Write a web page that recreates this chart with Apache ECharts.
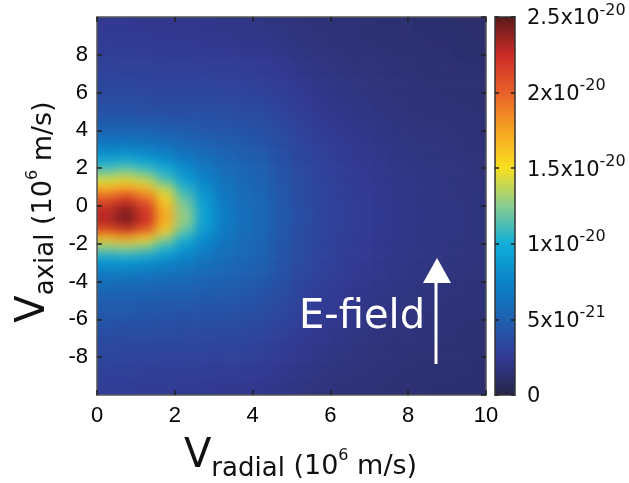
<!DOCTYPE html>
<html><head><meta charset="utf-8">
<script src="https://cdn.jsdelivr.net/npm/echarts@6/dist/echarts.min.js"></script>
<style>html,body{margin:0;padding:0;background:#fff}#c{width:629px;height:483px}</style>
</head><body><div id="c"></div>
<script>
// radial velocity cell centres (10^6 m/s)
const xCenters = [0.25,0.75,1.25,1.75,2.25,2.75,3.25,3.75,4.25,4.75,5.25,5.75,6.25,6.75,7.25,7.75,8.25,8.75,9.25,9.75];
// axial velocity cell centres (10^6 m/s), top to bottom
const yCenters = [9.75,9.25,8.75,8.25,7.75,7.25,6.75,6.25,5.75,5.25,4.75,4.25,3.75,3.25,2.75,2.25,1.75,1.25,0.75,0.25,
                  -0.25,-0.75,-1.25,-1.75,-2.25,-2.75,-3.25,-3.75,-4.25,-4.75,-5.25,-5.75,-6.25,-6.75,-7.25,-7.75,-8.25,-8.75,-9.25,-9.75];
// distribution values in units of 1e-21, one row per yCenter
const density = [
[2.4,2.4,2.3,2.3,2.2,2.2,2.1,2.0,1.9,1.8,1.7,1.6,1.5,1.5,1.4,1.4,1.3,1.3,1.2,1.2],
[2.4,2.4,2.4,2.3,2.3,2.2,2.2,2.1,2.1,1.9,1.8,1.7,1.6,1.5,1.4,1.4,1.3,1.3,1.3,1.2],
[2.6,2.6,2.5,2.5,2.4,2.3,2.3,2.2,2.2,2.0,1.8,1.7,1.6,1.5,1.5,1.4,1.4,1.3,1.3,1.2],
[2.7,2.7,2.6,2.6,2.5,2.5,2.4,2.3,2.3,2.1,1.9,1.8,1.7,1.6,1.5,1.5,1.4,1.4,1.3,1.3],
[2.8,2.8,2.8,2.7,2.7,2.6,2.6,2.5,2.5,2.2,2.0,1.9,1.7,1.6,1.6,1.5,1.4,1.4,1.3,1.3],
[3.0,2.9,2.9,2.8,2.8,2.8,2.7,2.7,2.5,2.4,2.1,1.9,1.8,1.7,1.6,1.5,1.5,1.4,1.4,1.3],
[3.1,3.1,3.1,3.0,3.0,3.0,2.9,2.9,2.7,2.5,2.2,2.0,1.9,1.8,1.7,1.6,1.5,1.5,1.4,1.4],
[3.3,3.3,3.2,3.2,3.1,3.1,3.1,3.0,2.9,2.7,2.4,2.1,2.0,1.8,1.7,1.6,1.5,1.5,1.4,1.4],
[3.6,3.6,3.5,3.4,3.4,3.4,3.3,3.2,3.1,2.8,2.5,2.2,2.0,1.9,1.8,1.7,1.6,1.5,1.5,1.4],
[3.9,3.9,3.8,3.7,3.7,3.7,3.6,3.5,3.4,3.0,2.6,2.3,2.1,2.0,1.8,1.7,1.6,1.6,1.5,1.5],
[4.3,4.3,4.2,4.1,4.0,4.0,3.8,3.7,3.6,3.2,2.8,2.4,2.2,2.0,1.9,1.8,1.7,1.6,1.6,1.5],
[4.9,4.9,4.8,4.6,4.5,4.3,4.2,4.0,3.8,3.4,2.9,2.6,2.3,2.1,2.0,1.8,1.7,1.7,1.6,1.5],
[5.7,5.7,5.6,5.3,5.0,4.7,4.5,4.3,4.1,3.6,3.0,2.7,2.4,2.2,2.0,1.9,1.8,1.7,1.7,1.6],
[6.8,6.8,6.6,6.1,5.6,5.2,4.9,4.6,4.3,3.7,3.2,2.8,2.5,2.3,2.1,1.9,1.8,1.8,1.7,1.6],
[8.2,8.4,8.0,7.3,6.4,5.8,5.3,4.8,4.6,3.9,3.3,2.9,2.6,2.3,2.2,2.0,1.9,1.8,1.7,1.7],
[10.2,10.5,9.9,8.7,7.5,6.4,5.7,5.2,4.8,4.1,3.4,3.0,2.7,2.4,2.2,2.0,1.9,1.8,1.8,1.7],
[12.3,12.8,11.9,10.3,8.4,7.0,6.0,5.4,5.0,4.2,3.5,3.0,2.7,2.4,2.3,2.1,2.0,1.9,1.8,1.7],
[14.8,15.4,14.3,12.0,9.5,7.6,6.4,5.6,5.1,4.3,3.6,3.1,2.8,2.5,2.3,2.1,2.0,1.9,1.8,1.7],
[18.2,19.2,17.6,14.4,11.0,8.4,6.7,5.8,5.3,4.4,3.7,3.2,2.8,2.5,2.3,2.1,2.0,1.9,1.8,1.8],
[21.3,22.4,20.6,16.0,12.0,8.9,6.9,5.9,5.4,4.5,3.7,3.2,2.9,2.6,2.4,2.2,2.0,1.9,1.9,1.8],
[22.8,24.1,22.0,17.1,12.6,9.3,7.1,6.0,5.4,4.5,3.8,3.2,2.9,2.6,2.4,2.2,2.0,2.0,1.9,1.8],
[23.1,24.4,22.3,17.3,12.8,9.3,7.1,6.0,5.4,4.5,3.8,3.2,2.9,2.6,2.4,2.2,2.0,2.0,1.9,1.8],
[21.2,22.3,20.5,15.9,12.0,8.9,6.9,6.0,5.4,4.5,3.7,3.2,2.9,2.6,2.4,2.2,2.0,1.9,1.9,1.8],
[15.8,16.5,15.3,12.8,10.1,7.9,6.6,5.8,5.3,4.4,3.7,3.2,2.8,2.5,2.3,2.2,2.0,1.9,1.9,1.8],
[12.2,12.6,11.8,10.2,8.5,7.1,6.2,5.6,5.2,4.3,3.6,3.1,2.8,2.5,2.3,2.1,2.0,1.9,1.8,1.8],
[9.3,9.5,9.1,8.2,7.3,6.5,5.9,5.4,5.0,4.2,3.6,3.1,2.7,2.5,2.3,2.1,2.0,1.9,1.8,1.7],
[7.6,7.6,7.4,7.0,6.5,6.0,5.6,5.2,4.9,4.1,3.5,3.0,2.7,2.4,2.2,2.1,1.9,1.9,1.8,1.7],
[6.3,6.3,6.2,5.9,5.7,5.4,5.2,4.9,4.7,4.0,3.3,2.9,2.6,2.3,2.2,2.0,1.9,1.8,1.7,1.7],
[5.7,5.6,5.5,5.4,5.3,5.1,4.9,4.7,4.4,3.8,3.2,2.8,2.5,2.3,2.1,2.0,1.9,1.8,1.7,1.6],
[5.1,5.1,5.0,4.9,4.8,4.7,4.6,4.4,4.1,3.6,3.1,2.7,2.4,2.2,2.1,1.9,1.8,1.7,1.7,1.6],
[4.7,4.7,4.6,4.5,4.4,4.3,4.2,4.1,3.9,3.5,3.0,2.6,2.4,2.1,2.0,1.9,1.8,1.7,1.6,1.6],
[4.4,4.4,4.3,4.2,4.1,4.1,4.0,3.8,3.7,3.3,2.8,2.5,2.3,2.1,1.9,1.8,1.7,1.6,1.6,1.5],
[4.1,4.0,4.0,3.9,3.8,3.8,3.7,3.6,3.5,3.1,2.7,2.4,2.2,2.0,1.9,1.8,1.7,1.6,1.5,1.5],
[3.8,3.7,3.7,3.6,3.5,3.5,3.4,3.3,3.2,2.9,2.5,2.3,2.1,1.9,1.8,1.7,1.6,1.6,1.5,1.4],
[3.5,3.5,3.5,3.4,3.4,3.3,3.3,3.2,3.0,2.7,2.4,2.2,2.0,1.8,1.7,1.6,1.6,1.5,1.5,1.4],
[3.3,3.2,3.2,3.1,3.1,3.1,3.0,3.0,2.8,2.6,2.3,2.1,1.9,1.8,1.7,1.6,1.5,1.5,1.4,1.4],
[3.1,3.1,3.0,2.9,2.9,2.9,2.8,2.8,2.6,2.4,2.2,2.0,1.8,1.7,1.6,1.5,1.5,1.4,1.4,1.3],
[2.9,2.9,2.8,2.8,2.8,2.7,2.7,2.6,2.5,2.3,2.1,1.9,1.8,1.7,1.6,1.5,1.4,1.4,1.4,1.3],
[2.8,2.8,2.7,2.7,2.6,2.6,2.5,2.4,2.4,2.2,2.0,1.8,1.7,1.6,1.5,1.5,1.4,1.4,1.3,1.3],
[2.7,2.7,2.6,2.6,2.5,2.4,2.3,2.3,2.2,2.0,1.9,1.7,1.6,1.6,1.5,1.4,1.4,1.3,1.3,1.3]
];
// colour bar tick values (1e-21 units) and their labels [mantissa, exponent]
const colorbarValues = [0,5,10,15,20,25];
const colorbarLabels = [['0',''],['5x10','-21'],['1x10','-20'],['1.5x10','-20'],['2x10','-20'],['2.5x10','-20']];
const colorStops = ['#252447','#333a94','#1e60b0','#0a84c8','#10aed8','#88cc90','#f8e020','#f5a422','#e8602a','#cc2c26','#5a1a1a'];

const data = [];
yCenters.forEach((y, j) => xCenters.forEach((x, i) => data.push([x, y, density[j][i]])));
const halfW = (xCenters[1] - xCenters[0]) / 2;
const halfH = (yCenters[0] - yCenters[1]) / 2;
const xFirst = xCenters[0], xLast = xCenters[xCenters.length - 1];
const yFirst = yCenters[0], yLast = yCenters[yCenters.length - 1];

const chart = echarts.init(document.getElementById('c'), null, {renderer: 'canvas'});
const tickFont = {fontFamily: '"Liberation Sans", Arial, sans-serif', fontSize: 22, color: '#000'};
const frame = {onZero: false, lineStyle: {color: '#555', width: 1.5}};
const tickStyle = {inside: true, length: 5, lineStyle: {color: '#222', width: 1.5}};
const txt = {fontFamily: 'DejaVu Sans', fill: '#111', color: '#111', verticalAlign: 'bottom'};
const titleRich = {
  v: Object.assign({fontSize: 40, lineHeight: 44}, txt),
  sub: Object.assign({fontSize: 26, lineHeight: 28, padding: [0,0,-5,0]}, txt),
  t: Object.assign({fontSize: 27, lineHeight: 29, padding: [0,0,-3,0]}, txt),
  sup: Object.assign({fontSize: 16, lineHeight: 18, padding: [0,0,13,0]}, txt)
};
chart.setOption({
  animation: false,
  backgroundColor: '#fff',
  grid: [
    {left: 97, top: 17, width: 389, height: 378},
    {left: 495, top: 17, width: 20, height: 378}
  ],
  xAxis: [
    {gridIndex: 0, type: 'value', min: 0, max: 10, interval: 2, position: 'bottom', axisLine: frame,
     axisTick: tickStyle, axisLabel: Object.assign({margin: 10}, tickFont), splitLine: {show: false}, zlevel: 2},
    {gridIndex: 0, type: 'value', min: 0, max: 10, interval: 2, position: 'top', axisLine: frame,
     axisTick: tickStyle, axisLabel: {show: false}, splitLine: {show: false}, zlevel: 2},
    {gridIndex: 1, type: 'value', min: 0, max: 1, position: 'bottom', axisLine: {onZero: false, lineStyle: {color: '#333', width: 1.5}}, axisTick: {show: false}, axisLabel: {show: false}, splitLine: {show: false}, z: 10},
    {gridIndex: 1, type: 'value', min: 0, max: 1, position: 'top', axisLine: {onZero: false, lineStyle: {color: '#333', width: 1.5}}, axisTick: {show: false}, axisLabel: {show: false}, splitLine: {show: false}, z: 10}
  ],
  yAxis: [
    {gridIndex: 0, type: 'value', min: -10, max: 10, interval: 2, position: 'left', axisLine: frame, axisTick: tickStyle,
     axisLabel: Object.assign({margin: 9, showMinLabel: false, showMaxLabel: false}, tickFont), splitLine: {show: false}, zlevel: 2},
    {gridIndex: 0, type: 'value', min: -10, max: 10, interval: 2, position: 'right', axisLine: frame,
     axisTick: tickStyle, axisLabel: {show: false}, splitLine: {show: false}, zlevel: 2},
    {gridIndex: 1, type: 'value', min: 0, max: 25, interval: 5, position: 'left', axisLine: {onZero: false, lineStyle: {color: '#333', width: 1.5}},
     axisTick: {inside: true, length: 4, lineStyle: {color: '#222', width: 1.5}}, axisLabel: {show: false}, splitLine: {show: false}, z: 10},
    {gridIndex: 1, type: 'value', min: 0, max: 25, interval: 5, position: 'right', axisLine: {onZero: false, lineStyle: {color: '#333', width: 1.5}},
     axisTick: {inside: true, length: 4, lineStyle: {color: '#222', width: 1.5}}, splitLine: {show: false}, z: 10,
     axisLabel: {margin: 12, formatter: v => {
        const k = colorbarValues.indexOf(v); if (k < 0) return '';
        const l = colorbarLabels[k]; return l[1] ? '{b|' + l[0] + '}{s|' + l[1] + '}' : '{b|' + l[0] + '}';
      },
      rich: {
        b: {fontFamily: 'DejaVu Sans', fontSize: 21, color: '#111', lineHeight: 25, verticalAlign: 'bottom'},
        s: {fontFamily: 'DejaVu Sans', fontSize: 16, color: '#111', lineHeight: 18, verticalAlign: 'bottom', padding: [0,0,11,0]}
      }}}
  ],
  visualMap: {
    type: 'continuous', min: 0, max: 25, dimension: 2, seriesIndex: 0, calculable: false,
    left: 495, top: 17, itemWidth: 20, itemHeight: 378, padding: 0, z: 1,
    inRange: {color: colorStops}
  },
  series: [{
    type: 'custom', xAxisIndex: 0, yAxisIndex: 0, data: data, encode: {x: 0, y: 1},
    clip: false, zlevel: 1,
    renderItem: (params, api) => {
      const x = api.value(0), y = api.value(1);
      const p0 = api.coord([x - halfW, y + halfH]);
      const p1 = api.coord([x + halfW, y - halfH]);
      // edge cells are padded outward (hidden by the clip) so the smoothing does not fade the border
      const pad = 24;
      const l = x === xFirst ? pad : 0, r = x === xLast ? pad : 0;
      const t = y === yFirst ? pad : 0, b = y === yLast ? pad : 0;
      return {type: 'rect', shape: {x: p0[0] - l, y: p0[1] - t, width: p1[0] - p0[0] + 0.6 + l + r, height: p1[1] - p0[1] + 0.6 + t + b},
              style: {fill: api.visual('color')}};
    }
  }],
  graphic: [
    {type: 'text', left: 184, top: 437, style: {text: '{v|V}{sub|radial}{t| (10}{sup|6}{t| m/s)}', rich: titleRich}},
    {type: 'text', x: 32, y: 212, rotation: Math.PI / 2,
     style: {text: '{v|V}{sub|axial}{t| (10}{sup|6}{t| m/s)}', rich: titleRich, align: 'center', verticalAlign: 'middle'}},
    {type: 'text', left: 299, top: 298, zlevel: 2, style: {text: 'E-field', fill: '#fff', font: '40px "DejaVu Sans"'}},
    {type: 'line', zlevel: 2, shape: {x1: 436, y1: 364, x2: 436, y2: 278}, style: {stroke: '#fff', lineWidth: 3}},
    {type: 'polygon', zlevel: 2, shape: {points: [[437, 258], [423, 283], [451, 283]]}, style: {fill: '#fff'}}
  ]
});

// smooth the cell layer (zlevel 1) and clip it to the plot area
function smoothLayer() {
  const cv = document.querySelector('#c canvas[data-zr-dom-id="zr_1"]');
  if (cv) {
    cv.style.filter = 'blur(6px)';
    cv.style.clipPath = 'inset(17px 143px 88px 97px)';
  }
}
smoothLayer();
chart.on('finished', smoothLayer);
setTimeout(smoothLayer, 0);
</script></body></html>
